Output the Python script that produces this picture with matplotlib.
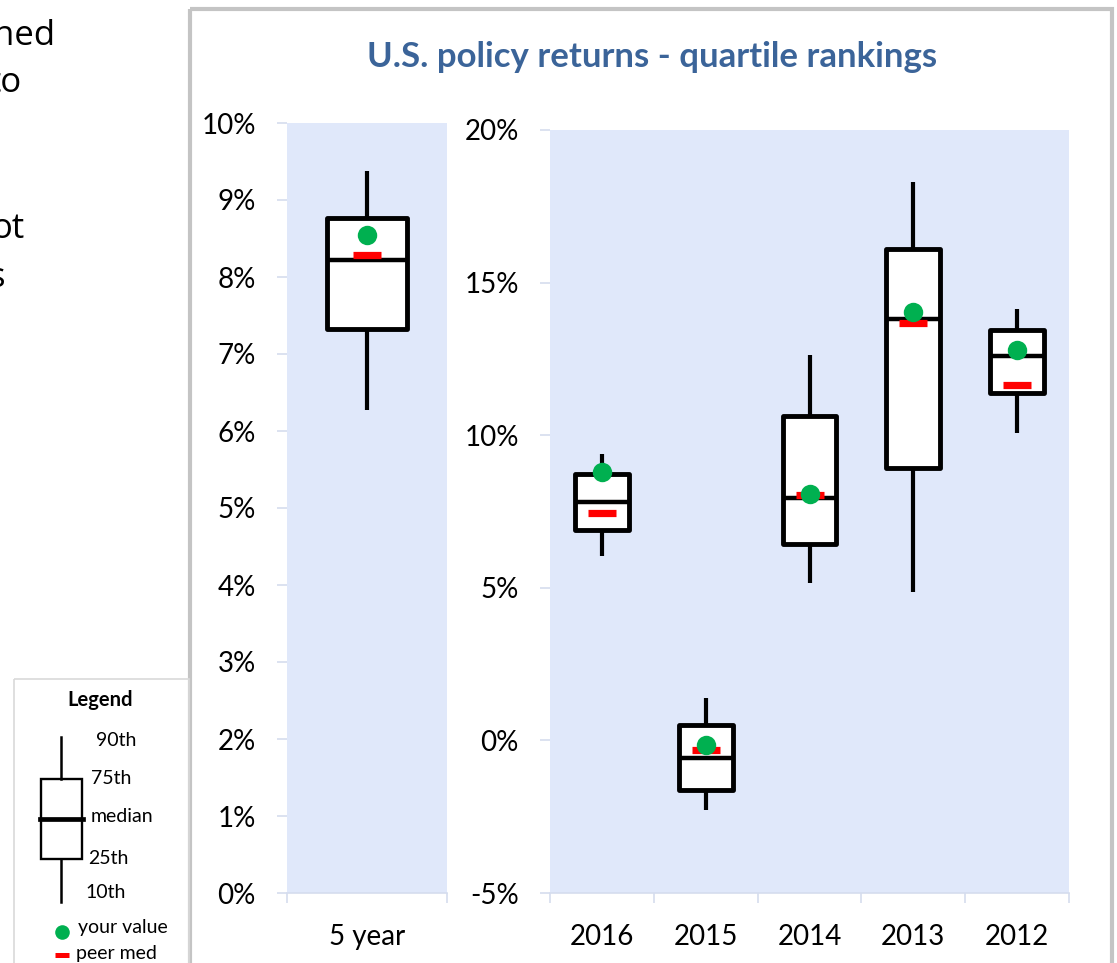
import matplotlib
matplotlib.use("Agg")
import matplotlib.pyplot as plt
from matplotlib.ticker import FixedLocator, FuncFormatter
from matplotlib.patches import Rectangle

# 5 year box (percent)
five_cat = ["5 year"]
five_p10 = [6.27]
five_p25 = [7.32]
five_med = [8.22]
five_p75 = [8.76]
five_p90 = [9.38]
five_yours = [8.55]
five_peer = [8.29]

# calendar years (percent)
years = ["2016", "2015", "2014", "2013", "2012"]
yr_p10 = [6.03, -2.28, 5.17, 4.87, 10.08]
yr_p25 = [6.88, -1.61, 6.42, 8.91, 11.39]
yr_med = [7.81, -0.57, 7.94, 13.82, 12.59]
yr_p75 = [8.73, 0.50, 10.63, 16.09, 13.44]
yr_p90 = [9.37, 1.40, 12.62, 18.29, 14.12]
yr_yours = [8.80, -0.15, 8.06, 14.05, 12.79]
yr_peer = [7.45, -0.32, 8.04, 13.66, 11.64]

W, H = 1117, 963
BG = "#E0E8FA"
TICK_C = "#D5DDEE"
FONT = "Lato"

plt.rcParams["font.family"] = [FONT, "DejaVu Sans"]

fig = plt.figure(figsize=(W / 100, H / 100), dpi=100)


def px_axes(x0, y0, x1, y1):
    return fig.add_axes([x0 / W, 1 - y1 / H, (x1 - x0) / W, (y1 - y0) / H])


def draw_panel(ax, cats, p10, p25, med, p75, p90, yours, peer, width, ylim, yticks):
    stats = []
    for i in range(len(cats)):
        stats.append(dict(whislo=p10[i], q1=p25[i], med=med[i], q3=p75[i],
                          whishi=p90[i], fliers=[]))
    pos = list(range(len(cats)))
    ax.bxp(stats, positions=pos, widths=width, showcaps=False, showfliers=False,
           patch_artist=True,
           boxprops=dict(facecolor="white", edgecolor="black", linewidth=3.5,
                         joinstyle="round"),
           medianprops=dict(color="black", linewidth=3.2, solid_capstyle="butt"),
           whiskerprops=dict(color="black", linewidth=3.0, solid_capstyle="butt"),
           zorder=2)
    ax.plot(pos, peer, ls="none", marker="_", ms=20, mew=5.2, color="#FF0000", zorder=3)
    ax.plot(pos, yours, ls="none", marker="o", ms=14, mew=0, color="#00B050", zorder=4)

    ax.set_facecolor(BG)
    ax.set_xlim(-0.5, len(cats) - 0.5)
    ax.set_ylim(*ylim)
    ax.yaxis.set_major_locator(FixedLocator(yticks))
    ax.yaxis.set_major_formatter(FuncFormatter(lambda v, p: f"{v:.0f}%"))
    ax.xaxis.set_major_locator(FixedLocator([i - 0.5 for i in range(len(cats) + 1)]))
    ax.xaxis.set_major_formatter(FuncFormatter(lambda v, p: ""))
    ax.xaxis.set_minor_locator(FixedLocator(pos))
    ax.set_xticklabels(cats, minor=True)
    ax.tick_params(axis="x", which="major", length=7.5, width=1.2, color=TICK_C, direction="out")
    ax.tick_params(axis="x", which="minor", length=0, pad=22, labelsize=20)
    ax.tick_params(axis="y", length=7.5, width=1.2, color=TICK_C, direction="out",
                   pad=15, labelsize=20)
    for s in ["top", "right", "left"]:
        ax.spines[s].set_visible(False)
    ax.spines["bottom"].set_color(TICK_C)
    ax.spines["bottom"].set_linewidth(1.2)


# background layer for borders, legend and the cut-off side text
bg = fig.add_axes([0, 0, 1, 1], zorder=0)
bg.set_xlim(0, W)
bg.set_ylim(H, 0)
bg.axis("off")

bg.add_patch(Rectangle((189.5, 9.5), 1112 - 189.5, 1000, fill=False,
                       edgecolor="#C4C4C4", linewidth=3))
bg.add_patch(Rectangle((14, 679), 175, 400, fill=False, edgecolor="#D9D9D9", linewidth=1.2))

# side text continues past the left edge, as in the source screenshot
for txt, x, y in [("ned", 55, 45), ("to", 22, 92), ("ot", 24, 238), ("s", 5, 287)]:
    bg.text(x, y, txt, ha="right", va="baseline", fontsize=25, family=["Open Sans", "DejaVu Sans"])

# legend illustration
bg.text(100, 700, "Legend", ha="center", va="center", fontsize=14.5, fontweight="bold")
bg.plot([61, 61], [737, 779], color="black", lw=1.8)
bg.plot([61, 61], [859, 902], color="black", lw=1.8)
bg.add_patch(Rectangle((41, 779), 41, 80, facecolor="white", edgecolor="black", linewidth=1.7))
bg.plot([40, 83], [819.5, 819.5], color="black", lw=3.4)
for txt, x, y in [("90th", 96, 740), ("75th", 91, 779), ("median", 91, 816),
                  ("25th", 88, 858), ("10th", 85, 893)]:
    bg.text(x, y, txt, ha="left", va="center", fontsize=14)
bg.plot([62], [932], marker="o", ms=10.5, mew=0, color="#00B050")
bg.text(78, 928, "your value", ha="left", va="center", fontsize=14)
bg.plot([54.5, 68.5], [955.5, 955.5], color="#FF0000", lw=3.6, solid_capstyle="butt")
bg.text(76, 954, "peer med", ha="left", va="center", fontsize=14)

fig.text(652 / W, 1 - 57 / H, "U.S. policy returns - quartile rankings", ha="center",
         va="center", fontsize=25, fontweight="bold", color="#3B6499")

ax1 = px_axes(287, 123, 447, 893)
ax1.set_zorder(1)
draw_panel(ax1, five_cat, five_p10, five_p25, five_med, five_p75, five_p90,
           five_yours, five_peer, 0.5, (0, 10), list(range(0, 11)))

ax2 = px_axes(550, 130, 1069, 893)
ax2.set_zorder(1)
draw_panel(ax2, years, yr_p10, yr_p25, yr_med, yr_p75, yr_p90,
           yr_yours, yr_peer, 0.52, (-5, 20), list(range(-5, 21, 5)))

fig.savefig("out.png", dpi=100, facecolor="white")
